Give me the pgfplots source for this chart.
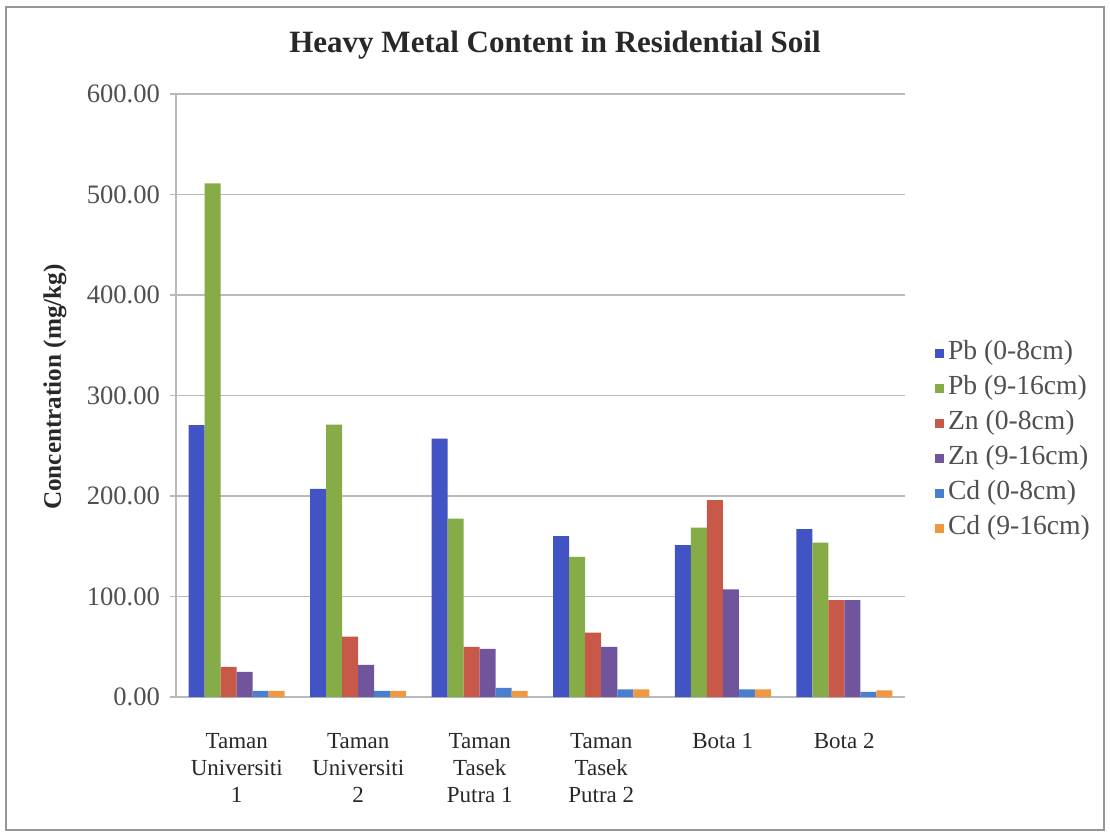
\documentclass[border=0pt]{standalone}
\usepackage{fontspec}
\setmainfont{Liberation Serif}
\usepackage{pgfplots}
\pgfplotsset{compat=1.18}

\definecolor{pbA}{RGB}{66,84,196}
\definecolor{pbB}{RGB}{134,172,72}
\definecolor{znA}{RGB}{200,88,72}
\definecolor{znB}{RGB}{112,84,156}
\definecolor{cdA}{RGB}{74,126,206}
\definecolor{cdB}{RGB}{240,152,64}
\definecolor{gridgray}{RGB}{184,186,194}
\definecolor{framegray}{RGB}{150,150,150}
\definecolor{ticktext}{RGB}{80,80,80}
\definecolor{titletext}{RGB}{40,40,40}

\begin{document}
\begin{tikzpicture}
\useasboundingbox (-88pt,-69.5pt) rectangle (467pt,348.5pt);
\fill[white] (-88pt,-69.5pt) rectangle (467pt,348.5pt);
\draw[framegray, line width=0.8pt] (-85pt,-66.5pt) rectangle (464pt,345pt);
\begin{axis}[
  at={(0pt,0pt)}, anchor=south west,
  scale only axis, width=364.5pt, height=301.5pt,
  ybar=0pt, bar width=8pt,
  xmin=-0.5, xmax=5.5, ymin=0, ymax=600,
  xtick={0,1,2,3,4,5},
  xticklabels={{Taman\\Universiti\\1},{Taman\\Universiti\\2},{Taman\\Tasek\\Putra 1},{Taman\\Tasek\\Putra 2},{Bota 1},{Bota 2}},
  xticklabel style={align=center, anchor=north, yshift=-11.5pt,
    font=\fontsize{11.5}{13.5}\selectfont, text=titletext},
  ytick={0,100,200,300,400,500,600},
  /pgf/number format/assume math mode=true,
  yticklabel style={/pgf/number format/.cd, fixed, fixed zerofill, precision=2,
    /tikz/.cd, font=\fontsize{13.3}{15}\selectfont, text=ticktext, xshift=-1.5pt},
  axis x line*=bottom, axis y line*=left,
  axis line style={gridgray, line width=0.8pt},
  ymajorgrids, grid style={gridgray, line width=0.8pt},
  x tick style={draw=none},
  y tick style={gridgray, line width=0.8pt},
  tick align=outside, major tick length=3pt,
  ylabel={Concentration (mg/kg)},
  ylabel style={at={(axis description cs:-0.166,0.514)}, anchor=center,
    font=\fontsize{12.6}{15}\selectfont\bfseries, text=titletext},
  legend style={at={(1.041,0.4245)}, anchor=west, draw=none, fill=none,
    inner sep=0pt, row sep=2.5pt,
    font=\fontsize{13.8}{16}\selectfont, text=ticktext,
    nodes={inner sep=2pt, text height=8.5pt, text depth=2.5pt}},
  legend cell align=left,
  legend image code/.code={\fill[#1] (0pt,-2.2pt) rectangle (4.4pt,2.2pt);},
]
% Pb, surface and subsurface layers
\addplot[fill=pbA, draw=none] coordinates {(0,270.5) (1,207) (2,257) (3,160) (4,151) (5,167)};
\addplot[fill=pbB, draw=none] coordinates {(0,511) (1,271) (2,177.5) (3,139.5) (4,168.5) (5,153.5)};
% Zn
\addplot[fill=znA, draw=none] coordinates {(0,30) (1,60) (2,50) (3,64) (4,196) (5,96.5)};
\addplot[fill=znB, draw=none] coordinates {(0,25) (1,32) (2,48) (3,50) (4,107) (5,96.5)};
% Cd
\addplot[fill=cdA, draw=none] coordinates {(0,6) (1,6) (2,9) (3,7.5) (4,7.5) (5,5)};
\addplot[fill=cdB, draw=none] coordinates {(0,6) (1,6) (2,6) (3,7.5) (4,7.5) (5,6.5)};
\legend{Pb (0-8cm), Pb (9-16cm), Zn (0-8cm), Zn (9-16cm), Cd (0-8cm), Cd (9-16cm)}
\end{axis}
\node[font=\fontsize{15.5}{18}\selectfont\bfseries, text=titletext] at (189.5pt,326pt)
  {Heavy Metal Content in Residential Soil};
\end{tikzpicture}
\end{document}
